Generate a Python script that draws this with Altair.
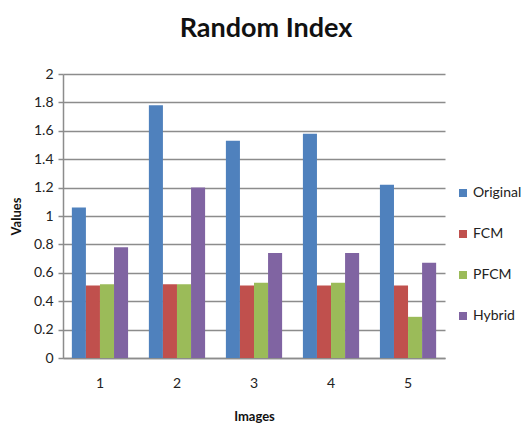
import altair as alt
import pandas as pd

images = ["1", "2", "3", "4", "5"]
methods = ["Original", "FCM", "PFCM", "Hybrid"]
original = [1.06, 1.78, 1.53, 1.58, 1.22]
fcm = [0.51, 0.52, 0.51, 0.51, 0.51]
pfcm = [0.52, 0.52, 0.53, 0.53, 0.29]
hybrid = [0.78, 1.20, 0.74, 0.74, 0.67]
colors = ["#4F81BD", "#C0504D", "#9BBB59", "#8064A2"]

rows = []
for m, vals in zip(methods, [original, fcm, pfcm, hybrid]):
    for img, v in zip(images, vals):
        rows.append({"Image": img, "Method": m, "Value": v})
df = pd.DataFrame(rows)

FONT = "Lato"
GRID = "#8c8c8c"

chart = (
    alt.Chart(df)
    .mark_bar()
    .encode(
        x=alt.X(
            "Image:N",
            sort=images,
            title="Images",
            scale=alt.Scale(paddingInner=0.27, paddingOuter=0.115),
            axis=alt.Axis(
                labelAngle=0, ticks=False, domainColor=GRID, domainWidth=1.5,
                labelFontSize=14, labelColor="#222222", labelPadding=18,
                titleFontSize=13, titleFontWeight="bold", titlePadding=20,
                titleColor="#111111", labelFont=FONT, titleFont=FONT,
            ),
        ),
        xOffset=alt.XOffset("Method:N", sort=methods),
        y=alt.Y(
            "Value:Q",
            title="Values",
            scale=alt.Scale(domain=[0, 2]),
            axis=alt.Axis(
                values=[0, 0.2, 0.4, 0.6, 0.8, 1, 1.2, 1.4, 1.6, 1.8, 2],
                format="~g", gridColor=GRID, gridWidth=1.5, domainColor=GRID,
                domainWidth=1.5, tickColor=GRID, tickWidth=1.5, tickSize=5,
                labelFontSize=14, labelColor="#222222", labelPadding=5,
                titleFontSize=13, titleFontWeight="bold", titleColor="#111111",
                titlePadding=10, labelFont=FONT, titleFont=FONT,
            ),
        ),
        color=alt.Color(
            "Method:N",
            sort=methods,
            scale=alt.Scale(domain=methods, range=colors),
            legend=alt.Legend(
                title=None, orient="none", legendX=393, legendY=112,
                symbolType="square", symbolSize=64, symbolStrokeWidth=0,
                labelFontSize=14, labelFont=FONT, labelColor="#222222",
                rowPadding=27, labelOffset=3,
            ),
        ),
    )
    .properties(
        width=382,
        height=284,
        title=alt.TitleParams(
            "Random Index", fontSize=27, font=FONT, fontWeight="bold",
            color="#111111", anchor="middle", dx=12, offset=24,
        ),
        autosize=alt.AutoSizeParams(type="none"),
        padding={"left": 63, "top": 74, "right": 86, "bottom": 73},
    )
    .configure_view(stroke=None)
)

chart.save("out.html", embed_options={"renderer": "svg", "actions": False})
